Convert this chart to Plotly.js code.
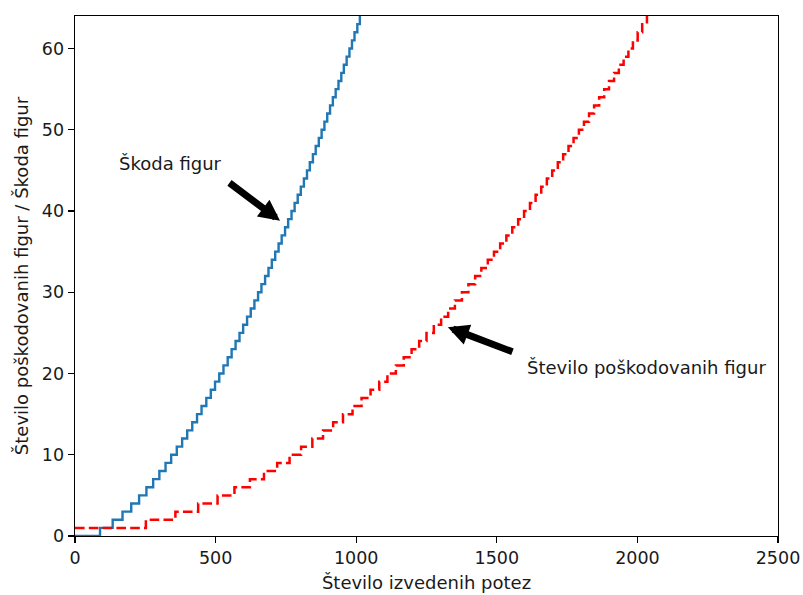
<!DOCTYPE html>
<html>
<head>
<meta charset="utf-8">
<script src="https://cdn.plot.ly/plotly-3.0.1.min.js"></script>
<style>html,body{margin:0;padding:0;background:#fff;}#chart{width:803px;height:595px;}</style>
</head>
<body>
<div id="chart"></div>
<script>
// Škoda figur (blue, solid step) — x where each new level starts
const skodaX = [0, 89, 134, 169, 200, 228, 254, 278, 300, 322, 342, 362, 381, 399, 417, 434, 450, 467, 483, 498, 513, 528, 543, 557, 571, 585, 598, 612, 625, 638, 651, 663, 676, 688, 700, 712, 724, 735, 747, 758, 770, 781, 792, 803, 814, 825, 835, 846, 856, 867, 877, 887, 897, 907, 917, 927, 937, 947, 956, 966, 976, 985, 994, 1004, 1013];
const skodaY = [0, 1, 2, 3, 4, 5, 6, 7, 8, 9, 10, 11, 12, 13, 14, 15, 16, 17, 18, 19, 20, 21, 22, 23, 24, 25, 26, 27, 28, 29, 30, 31, 32, 33, 34, 35, 36, 37, 38, 39, 40, 41, 42, 43, 44, 45, 46, 47, 48, 49, 50, 51, 52, 53, 54, 55, 56, 57, 58, 59, 60, 61, 62, 63, 64];

// Število poškodovanih figur (red, dashed step)
const poskX = [0, 252, 357, 438, 507, 567, 622, 672, 719, 763, 804, 844, 882, 918, 953, 987, 1019, 1051, 1082, 1111, 1141, 1169, 1197, 1224, 1250, 1276, 1302, 1327, 1351, 1376, 1399, 1423, 1445, 1468, 1490, 1512, 1534, 1555, 1576, 1597, 1618, 1638, 1658, 1678, 1697, 1717, 1736, 1755, 1773, 1792, 1810, 1828, 1846, 1864, 1882, 1899, 1917, 1934, 1951, 1968, 1984, 2001, 2017, 2034];
const poskY = [1, 2, 3, 4, 5, 6, 7, 8, 9, 10, 11, 12, 13, 14, 15, 16, 17, 18, 19, 20, 21, 22, 23, 24, 25, 26, 27, 28, 29, 30, 31, 32, 33, 34, 35, 36, 37, 38, 39, 40, 41, 42, 43, 44, 45, 46, 47, 48, 49, 50, 51, 52, 53, 54, 55, 56, 57, 58, 59, 60, 61, 62, 63, 64];

const xTicks = [0, 500, 1000, 1500, 2000, 2500];
const yTicks = [0, 10, 20, 30, 40, 50, 60];

const FONT = 'DejaVu Sans, sans-serif';
const FS = 17.5;
const TXT = '#1a1a1a';

const traces = [
  {x: skodaX, y: skodaY, mode: 'lines', line: {shape: 'hv', color: '#1f77b4', width: 2.4}, showlegend: false, hoverinfo: 'skip'},
  {x: poskX, y: poskY, mode: 'lines', line: {shape: 'hv', color: '#ff0000', width: 2.5, dash: '9.6px,4.2px'}, showlegend: false, hoverinfo: 'skip'}
];

const arrowCommon = {text: '', showarrow: true, arrowhead: 2, arrowsize: 0.6, arrowwidth: 7, arrowcolor: '#000', standoff: 0, startstandoff: 0, axref: 'x', ayref: 'y', xref: 'x', yref: 'y'};

const layout = {
  width: 803, height: 595,
  margin: {l: 75, r: 25, t: 16, b: 59},
  paper_bgcolor: '#fff', plot_bgcolor: '#fff',
  font: {family: FONT, size: FS, color: TXT},
  xaxis: {
    range: [0, 2500], tickvals: xTicks, ticktext: xTicks.map(String),
    showgrid: false, zeroline: false, showline: true, linecolor: '#000', linewidth: 1.4, mirror: true,
    ticks: 'outside', ticklen: 6, tickwidth: 1.4, tickcolor: '#000',
    tickfont: {family: FONT, size: FS, color: TXT},
    title: {text: 'Število izvedenih potez', font: {family: FONT, size: 18, color: TXT}, standoff: 9}
  },
  yaxis: {
    range: [0, 64], tickvals: yTicks, ticktext: yTicks.map(String),
    showgrid: false, zeroline: false, showline: true, linecolor: '#000', linewidth: 1.4, mirror: true,
    ticks: 'outside', ticklen: 6, tickwidth: 1.4, tickcolor: '#000',
    tickfont: {family: FONT, size: FS, color: TXT},
    title: {text: 'Število poškodovanih figur / Škoda figur', font: {family: FONT, size: 18, color: TXT}, standoff: 8}
  },
  annotations: [
    Object.assign({}, arrowCommon, {x: 729, y: 38.8, ax: 544, ay: 43.6}),
    Object.assign({}, arrowCommon, {x: 1326, y: 25.7, ax: 1561, ay: 22.6}),
    {text: 'Škoda figur', x: 149, y: 45.9, xref: 'x', yref: 'y', xanchor: 'left', yanchor: 'middle', showarrow: false, font: {family: FONT, size: 18, color: TXT}},
    {text: 'Število poškodovanih figur', x: 1600, y: 20.8, xref: 'x', yref: 'y', xanchor: 'left', yanchor: 'middle', showarrow: false, font: {family: FONT, size: 18, color: TXT}}
  ]
};

Plotly.newPlot('chart', traces, layout, {displayModeBar: false, staticPlot: true});
</script>
</body>
</html>
